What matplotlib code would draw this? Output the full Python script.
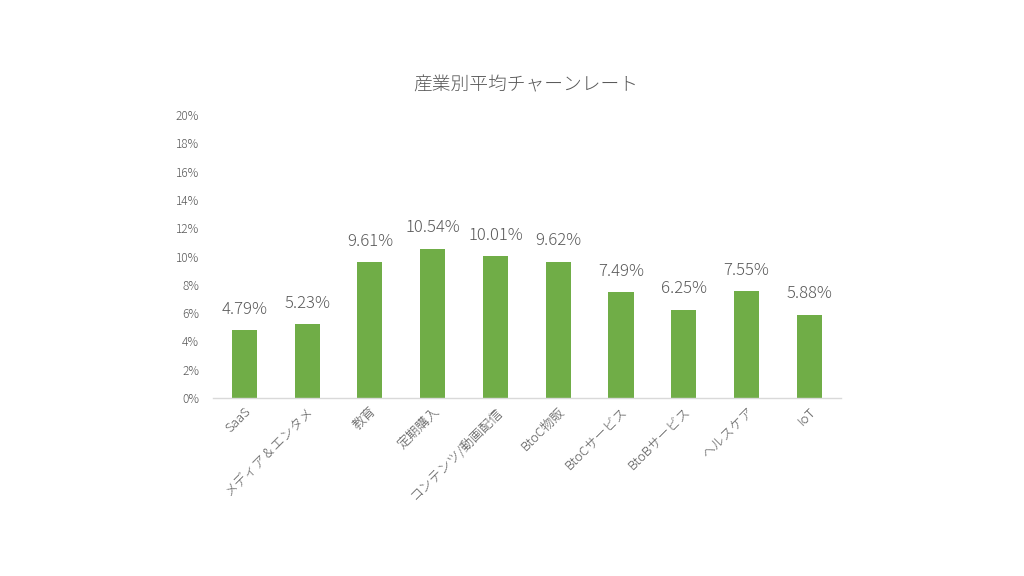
import matplotlib
matplotlib.use("Agg")
import matplotlib.pyplot as plt
from matplotlib.ticker import FuncFormatter

plt.rcParams['font.family'] = ['Noto Sans CJK JP', 'DejaVu Sans']
plt.rcParams['font.weight'] = 'light'

categories = ["SaaS", "メディア＆エンタメ", "教育", "定期購入", "コンテンツ/動画配信",
              "BtoC物販", "BtoCサービス", "BtoBサービス", "ヘルスケア", "IoT"]
churn_rates = [4.79, 5.23, 9.61, 10.54, 10.01, 9.62, 7.49, 6.25, 7.55, 5.88]
y_ticks = [0, 2, 4, 6, 8, 10, 12, 14, 16, 18, 20]

green = "#70AD47"
text_grey = "#595959"

fig = plt.figure(figsize=(10.24, 5.76), dpi=100)
ax = fig.add_axes([0.208, 0.309, 0.613, 0.491])

x = list(range(len(categories)))
bars = ax.bar(x, churn_rates, width=0.4, color=green, zorder=2)

ax.set_xlim(-0.5, len(categories) - 0.5)
ax.set_ylim(0, 20)
ax.set_yticks(y_ticks)
ax.yaxis.set_major_formatter(FuncFormatter(lambda v, p: f"{int(v)}%"))
ax.tick_params(axis='y', length=0, labelsize=8.5, labelcolor=text_grey, pad=10)
ax.tick_params(axis='x', length=0, labelsize=9.5, labelcolor=text_grey, pad=5)
ax.set_xticks(x)
ax.set_xticklabels(categories, rotation=45, ha='right', va='top', rotation_mode='anchor')
for lbl in ax.get_xticklabels():
    lbl.set_x(lbl.get_position()[0])

for s in ['top', 'right', 'left']:
    ax.spines[s].set_visible(False)
ax.spines['bottom'].set_color('#D9D9D9')
ax.spines['bottom'].set_linewidth(1)

for xi, v in zip(x, churn_rates):
    ax.annotate(f"{v:.2f}%", (xi, v), xytext=(0, 9), textcoords='offset points',
                ha='center', va='bottom', fontsize=12, color=text_grey)

fig.text(0.513, 0.852, "産業別平均チャーンレート", ha='center', va='center',
         fontsize=13.5, color=text_grey)

fig.savefig("out.png", dpi=100, facecolor='white')
